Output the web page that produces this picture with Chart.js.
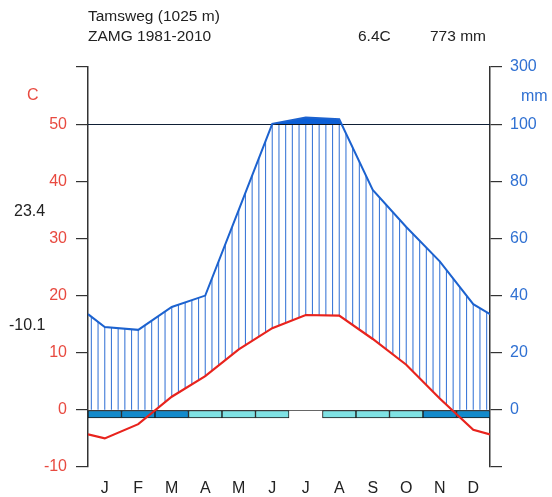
<!DOCTYPE html>
<html>
<head>
<meta charset="utf-8">
<script src="https://cdn.jsdelivr.net/npm/chart.js@4.4.1/dist/chart.umd.min.js"></script>
<style>
  html, body { margin: 0; padding: 0; background: #fff; }
  #wl { display: block; }
</style>
</head>
<body>
<canvas id="wl" width="552" height="497"></canvas>
<script>
// Tamsweg climate diagram (Walter-Lieth style)
var months = ['J', 'F', 'M', 'A', 'M', 'J', 'J', 'A', 'S', 'O', 'N', 'D'];
var tempC = [-5.0, -2.5, 2.3, 5.9, 10.6, 14.3, 16.6, 16.5, 12.4, 7.9, 2.0, -3.5];
var precMm = [29, 28, 36, 40, 70, 101, 123, 117, 77, 64, 52, 37];
var edgeTemp = -4.3;   // dec/jan wrap value at both ends
var edgePrec = 33.5;
// 2 = sure frost, 1 = probable frost, 0 = none
var frost = [2, 2, 2, 1, 1, 1, 0, 1, 1, 1, 2, 2];
var leftTickLabels = ['-10', '0', '10', '20', '30', '40', '50', ''];
var rightTickLabels = ['', '0', '20', '40', '60', '80', '100', '300'];
var station = 'Tamsweg (1025 m)';
var source = 'ZAMG 1981-2010';
var meanTemp = '6.4C';
var totalPrec = '773 mm';
var maxWarm = '23.4';
var minCold = '-10.1';

var RED = '#e8231d', BLUE = '#1c62cf', HATCH = '#3f7ad8';

// precipitation -> temperature units (100 mm = 50 C, compressed above 100)
function precToScale(p) {
    return p <= 100 ? p / 2 : 50 + (p - 100) / 20;
}

var tempPts = [{ x: 0, y: edgeTemp }];
var precPts = [{ x: 0, y: precToScale(edgePrec) }];
tempC.forEach(function (t, i) { tempPts.push({ x: i + 0.5, y: t }); });
precMm.forEach(function (p, i) { precPts.push({ x: i + 0.5, y: precToScale(p) }); });
tempPts.push({ x: 12, y: edgeTemp });
precPts.push({ x: 12, y: precToScale(edgePrec) });

var frostBars = frost.map(function (f, i) {
    return { x: i + 0.5, y: f ? [-1.4, 0] : null };
});
var frostColors = frost.map(function (f) {
    return f === 2 ? '#138acb' : '#7fe2e4';
});

function yAt(pts, x) {
    for (var i = 0; i < pts.length - 1; i++) {
        var a = pts[i], b = pts[i + 1];
        if (x >= a.x && x <= b.x) {
            var t = (x - a.x) / (b.x - a.x);
            return a.y + t * (b.y - a.y);
        }
    }
    return pts[pts.length - 1].y;
}

var diagram = {
    id: 'diagram',
    beforeDatasetsDraw: function (chart) {
        var ctx = chart.ctx, a = chart.chartArea, ys = chart.scales.y;
        var y50 = ys.getPixelForValue(50), y0 = ys.getPixelForValue(0);
        var tp = chart.getDatasetMeta(1).data.map(function (e) { return { x: e.x, y: e.y }; });
        var pp = chart.getDatasetMeta(0).data.map(function (e) { return { x: e.x, y: e.y }; });
        ctx.save();
        ctx.strokeStyle = HATCH;
        ctx.lineWidth = 1.1;
        var n = 60, w = (a.right - a.left) / n;
        for (var k = 0; k < n; k++) {
            var x = a.left + (k + 0.5) * w;
            var yp = Math.max(yAt(pp, x), y50);
            var yt = Math.min(yAt(tp, x), y0);
            if (yp < yt) {
                ctx.beginPath();
                ctx.moveTo(x, yp);
                ctx.lineTo(x, yt);
                ctx.stroke();
            }
        }
        // 50 C / 100 mm line and zero line
        ctx.lineWidth = 1;
        ctx.strokeStyle = '#111';
        ctx.beginPath();
        ctx.moveTo(a.left, Math.round(y50) + 0.5);
        ctx.lineTo(a.right, Math.round(y50) + 0.5);
        ctx.stroke();
        ctx.strokeStyle = '#666';
        ctx.beginPath();
        ctx.moveTo(a.left, Math.round(y0) + 0.5);
        ctx.lineTo(a.right, Math.round(y0) + 0.5);
        ctx.stroke();
        ctx.restore();
    },
    afterDraw: function (chart) {
        var ctx = chart.ctx;
        ctx.save();
        ctx.textBaseline = 'middle';
        ctx.textAlign = 'left';
        ctx.font = '15.5px "Liberation Sans", Arial, sans-serif';
        ctx.fillStyle = '#222';
        ctx.fillText(station, 88, 17);
        ctx.fillText(source, 88, 37);
        ctx.fillText(meanTemp, 358, 37);
        ctx.fillText(totalPrec, 430, 37);
        ctx.font = '16px "Liberation Sans", Arial, sans-serif';
        ctx.fillText(maxWarm, 14, 212);
        ctx.fillText(minCold, 9, 326);
        ctx.fillStyle = '#e84a40';
        ctx.fillText('C', 27, 96);
        ctx.fillStyle = '#2f70d2';
        ctx.fillText('mm', 521, 97);
        ctx.restore();
    }
};

var ctx = document.getElementById('wl').getContext('2d');
var chart = new Chart(ctx, {
    type: 'line',
    data: {
        datasets: [{
            label: 'precipitation',
            data: precPts,
            borderColor: BLUE,
            borderWidth: 2,
            pointRadius: 0,
            tension: 0,
            fill: { target: { value: 50 }, above: '#0b5fd6', below: 'rgba(0,0,0,0)' },
            order: 1
        }, {
            label: 'temperature',
            data: tempPts,
            borderColor: RED,
            borderWidth: 2.2,
            pointRadius: 0,
            tension: 0,
            fill: false,
            order: 0
        }, {
            type: 'bar',
            label: 'frost',
            data: frostBars,
            backgroundColor: frostColors,
            borderColor: '#1a1a1a',
            borderWidth: 1,
            borderSkipped: false,
            barPercentage: 1,
            categoryPercentage: 1,
            order: 2
        }]
    },
    options: {
        responsive: false,
        animation: false,
        devicePixelRatio: 1,
        layout: { padding: { top: 67, left: 0, right: 0, bottom: 0 } },
        plugins: { legend: { display: false }, tooltip: { enabled: false } },
        scales: {
            x: {
                type: 'linear',
                min: 0,
                max: 12,
                offset: false,
                afterBuildTicks: function (scale) {
                    scale.ticks = months.map(function (m, i) { return { value: i + 0.5 }; });
                },
                afterFit: function (scale) { scale.height = 30; },
                grid: { display: false, drawTicks: false },
                border: { display: false },
                ticks: {
                    autoSkip: false,
                    maxRotation: 0,
                    padding: 12,
                    color: '#222',
                    font: { family: '"Liberation Sans", Arial, sans-serif', size: 16 },
                    callback: function (v, i) { return months[i]; }
                }
            },
            y: {
                position: 'left',
                min: -10,
                max: 60,
                afterFit: function (scale) { scale.width = 88; },
                grid: { drawOnChartArea: false, tickLength: 12, color: '#333', lineWidth: 1.2 },
                border: { display: true, color: '#333', width: 1.5 },
                ticks: {
                    stepSize: 10,
                    padding: 9,
                    color: '#e84a40',
                    font: { family: '"Liberation Sans", Arial, sans-serif', size: 16 },
                    callback: function (v, i) { return leftTickLabels[i]; }
                }
            },
            y2: {
                position: 'right',
                min: -10,
                max: 60,
                afterFit: function (scale) { scale.width = 62; },
                grid: { drawOnChartArea: false, tickLength: 12, color: '#333', lineWidth: 1.2 },
                border: { display: true, color: '#333', width: 1.5 },
                ticks: {
                    stepSize: 10,
                    padding: 8,
                    color: '#2f70d2',
                    font: { family: '"Liberation Sans", Arial, sans-serif', size: 16 },
                    callback: function (v, i) { return rightTickLabels[i]; }
                }
            }
        }
    },
    plugins: [diagram]
});
</script>
</body>
</html>
